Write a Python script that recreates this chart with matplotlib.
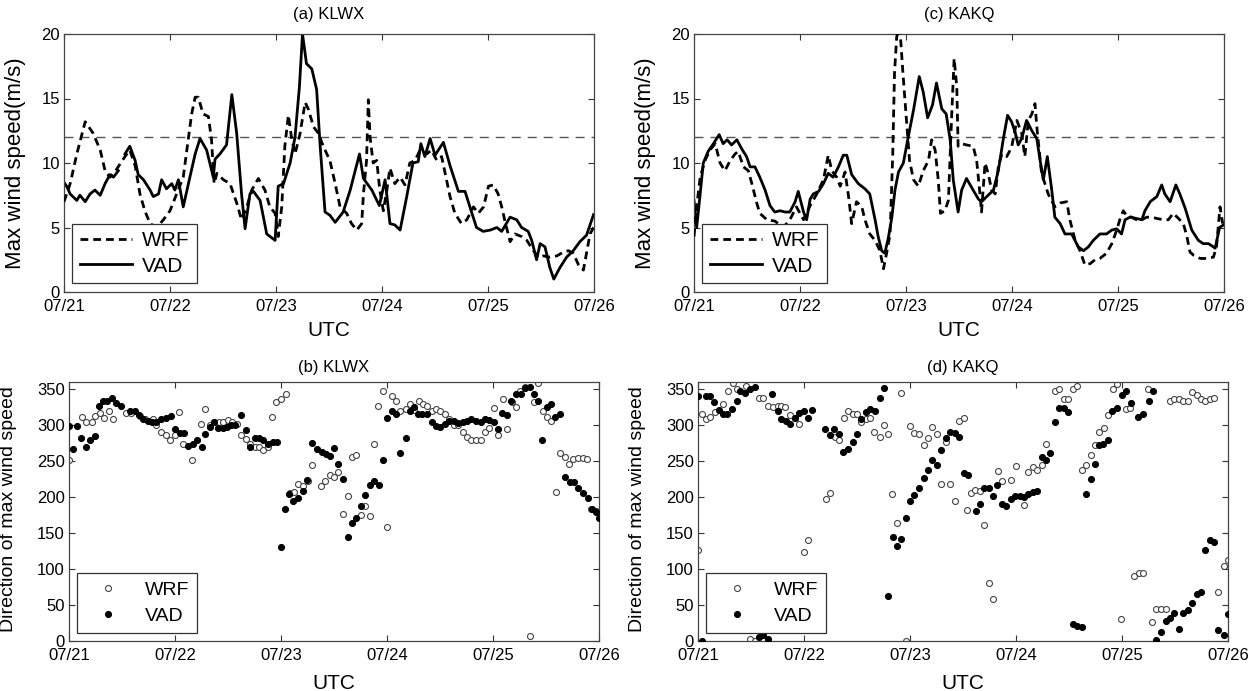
import numpy as np
import matplotlib
matplotlib.use('Agg')
import matplotlib.pyplot as plt

plt.rcParams['font.family'] = ['Liberation Sans', 'DejaVu Sans']

# x axis: hours since 07/21 00 UTC
day_ticks = [0, 24, 48, 72, 96, 120]
day_labels = ['07/21', '07/22', '07/23', '07/24', '07/25', '07/26']

# ---------------- (a) KLWX max wind speed ----------------
klwx_vad_h = [0.0, 0.6, 1.4, 2.9, 3.6, 4.8, 5.9, 7.0, 8.2, 9.3, 10.4, 11.2, 12.3, 13.0, 13.8, 14.9, 16.1, 16.8,
              18.0, 19.5, 20.2, 21.4, 22.1, 23.2, 24.4, 25.1, 25.9, 27.0, 28.5, 29.7, 30.8, 32.3, 33.8, 34.2,
              35.3, 36.8, 38.0, 39.1, 40.2, 41.0, 42.1, 42.9, 44.4, 45.9, 47.8, 48.5, 49.7, 51.2, 52.3, 53.3,
              54.0, 54.9, 56.1, 57.2, 58.0, 59.1, 60.2, 61.4, 63.2, 64.8, 66.9, 67.8, 69.7, 71.4, 72.7, 73.8,
              74.9, 76.1, 77.6, 79.0, 80.2, 80.8, 81.7, 82.9, 84.0, 85.9, 87.4, 89.3, 90.8, 91.9, 93.4, 94.9,
              96.5, 98.0, 99.1, 101.0, 102.5, 103.6, 105.1, 105.9, 107.0, 107.8, 108.9, 110.0, 110.9, 112.3,
              113.8, 115.3, 116.8, 118.3, 119.9]
klwx_vad = [8.5, 8.2, 7.6, 7.1, 7.5, 7.0, 7.6, 7.9, 7.5, 8.4, 9.1, 8.9, 9.4, np.nan, 10.7, 11.3, 10.2, 9.1,
            8.7, 7.9, 7.4, 7.6, 8.7, 8.0, 8.4, 7.9, 8.7, 6.6, 8.9, 10.7, 11.9, 11.0, 8.9, 10.3,
            10.7, 11.4, 15.3, 12.3, 7.6, 4.9, 7.6, 7.8, 7.1, 4.5, 4.0, 8.2, 8.4, 10.0, 12.0, 15.9,
            20.0, 17.7, 17.3, 15.7, 11.3, 6.2, 5.95, 5.4, 6.2, 7.9, 10.7, 8.8, 7.9, 6.7, 8.7, 5.3,
            5.2, 4.8, 7.4, 10.0, 10.1, 11.5, 10.5, 11.9, 10.6, 11.6, 9.8, 7.8, 7.8, 6.6, 5.0, 4.7,
            4.8, 5.0, 4.7, 5.8, 5.6, 5.0, 4.7, 4.0, 2.5, 3.75, 3.5, 1.9, 1.0, 1.9,
            2.7, 3.2, 3.9, 4.4, 6.0]
klwx_wrf_h = [0.0, 1.4, 2.9, 4.8, 6.6, 8.2, 9.3, 10.4, 11.5, 13.8, 14.9, 16.1, 17.2, 18.3, 19.5, 21.0, 22.5,
              24.0, 25.5, 27.0, 28.2, 28.9, 29.7, 30.4, 31.5, 32.7, 33.4, 34.0, 34.6, 36.1, 37.6, 39.1, 40.2,
              41.4, 42.5, 44.0, 45.5, 46.6, 47.8, 48.5, 49.3, 50.0, 50.8, 51.5, 52.3, 53.4, 54.6, 55.3, 56.5,
              57.6, 58.7, 60.2, 61.4, 62.5, 64.0, 65.1, 66.3, 67.4, 67.8, 68.5, 68.9, 69.3, 70.0, 70.8, 71.5,
              72.3, 73.1, 73.8, 74.9, 76.1, 77.2, 78.3, 79.5, 80.6, 82.1, 83.2, 84.4, 85.5, 86.3, 87.4, 88.5,
              90.0, 91.2, 92.7, 93.8, 95.0, 96.1, 97.2, 98.3, 99.1, 99.9, 101.0, 102.1, 103.6, 104.8, 106.3,
              107.4, 108.5, 110.0, 111.6, 113.1, 114.2, 115.3, 116.5, 117.6, 118.3, 119.1, 119.9]
klwx_wrf = [7.0, 8.4, 10.7, 13.2, 12.3, 11.0, 9.4, 8.9, 9.3, 10.5, 11.0, 9.8, 7.6, 6.3, 5.3, 5.0, 5.6,
            6.3, 7.6, 8.9, 12.0, 13.8, 15.1, 15.1, 13.8, 13.6, 11.8, 8.4, 9.2, 8.7, 8.4, 6.9, 5.6,
            6.6, 7.9, 8.8, 7.9, 6.6, 6.1, 4.3, 6.6, 11.3, 13.7, 12.0, 10.7, 12.2, 14.7, 14.2, 12.8,
            12.3, 11.3, 10.2, 8.4, 6.6, 6.1, 5.3, 4.8, 5.3, 7.6, 10.2, 14.9, 12.0, 10.0, 10.2, 7.9,
            6.3, 7.9, 9.6, 8.4, 8.9, 8.3, 10.0, 10.2, 11.0, 10.7, 11.0, 10.2, 10.5, 9.2, 7.4, 6.1,
            5.3, 5.6, 6.6, 6.1, 6.6, 8.2, 8.3, 7.6, 6.6, 5.4, 3.9, 4.5, 4.3, 4.0, 3.2,
            2.7, 2.8, 2.7, 2.8, 3.1, 3.2, 3.0, 2.1, 1.7, 3.0, 4.5, 5.0]

# ---------------- (c) KAKQ max wind speed ----------------
kakq_vad_h = [0.0, 0.6, 1.4, 2.1, 3.2, 4.4, 5.7, 6.6, 7.5, 8.5, 9.7, 10.8, 11.9, 12.7, 13.8, 14.9, 16.1, 17.2,
              18.3, 19.5, 20.6, 21.7, 22.9, 23.6, 24.8, 25.5, 26.3, 27.0, 28.2, 29.3, 30.4, 31.5, 32.7, 33.8,
              34.6, 35.7, 37.2, 38.7, 39.8, 41.0, 41.7, 42.5, 43.2, 44.0, 44.8, 45.5, 46.3, 47.4, 48.5, 49.7,
              51.0, 51.9, 52.9, 54.0, 54.9, 56.1, 57.1, 58.0, 58.7, 59.8, 60.6, 61.7, 63.2, 64.4, 65.1, 66.3,
              67.8, 68.9, 70.0, 71.0, 71.9, 72.7, 73.4, 74.2, 75.3, 76.5, 77.6, 78.6, 79.1, 80.0, 81.0, 81.7,
              82.9, 84.0, 85.5, 87.0, 88.2, 89.3, 90.4, 91.9, 93.4, 94.6, 95.7, 96.8, 97.6, 98.7, 100.2, 101.4,
              102.1, 103.3, 104.8, 105.9, 106.6, 107.8, 109.1, 110.0, 111.2, 112.7, 114.2, 115.3, 116.5,
              118.0, 119.0, 119.9]
kakq_vad = [7.1, 5.0, 7.6, 10.0, 10.9, 11.5, 12.2, 11.5, 11.8, 11.4, 11.8, 11.1, 10.5, 9.7, 9.7, 8.9, 7.9, 6.7,
            6.2, 6.3, 6.2, 6.2, 7.0, 7.8, 6.2, 5.6, 7.2, 7.6, 7.8, 8.4, 9.2, 8.9, 9.7, 10.6,
            10.6, 9.1, 8.4, 8.0, 7.6, 5.6, 4.3, 3.2, 3.0, 4.2, 5.8, 7.9, 9.3, 10.0, 12.0, 14.1,
            16.7, 15.5, 13.5, 14.5, 16.2, 14.2, 13.8, 11.8, 8.7, 6.2, 7.9, 8.8, 7.9, 7.2, 7.0, 7.4,
            7.9, 9.4, 11.8, 13.7, 13.2, 12.4, 11.4, 11.9, 13.3, 12.5, 11.9, 9.7, 8.7, 10.5, 7.9, 5.8,
            5.3, 4.5, 4.5, 3.5, 3.2, 3.5, 4.0, 4.5, 4.5, 4.8, 4.9, 4.5, 5.6, 5.8, 5.7, 5.6,
            6.3, 7.0, 7.4, 8.3, 7.6, 7.0, 8.3, 7.6, 6.5, 4.8, 4.0, 3.75, 3.75,
            3.4, 5.0, 5.2]
kakq_wrf_h = [0.0, 0.6, 1.4, 2.5, 3.6, 4.8, 5.9, 7.0, 8.2, 9.3, 10.0, 11.2, 12.3, 13.1, 14.2, 14.9, 16.5, 18.3,
              20.2, 21.7, 23.2, 24.8, 26.3, 27.8, 29.3, 30.4, 31.2, 32.3, 33.1, 34.2, 35.0, 35.7, 36.8, 38.0,
              38.7, 39.8, 41.0, 42.1, 42.9, 43.6, 44.4, 45.0, 45.4, 45.9, 46.6, 47.3, 48.0, 48.8, 49.7, 50.8,
              51.9, 53.1, 53.8, 54.6, 55.3, 55.8, 56.8, 57.6, 58.3, 58.9, 59.5, 59.8, 60.6, 61.7, 63.2, 64.0,
              64.8, 65.1, 65.9, 66.6, 67.4, 68.2, 68.9, 69.7, 70.8, 71.9, 73.1, 74.2, 74.9, 75.7, 76.5, 77.2,
              77.7, 78.7, 80.2, 81.7, 82.9, 84.4, 85.1, 86.3, 87.4, 88.5, 89.7, 90.8, 91.9, 93.4, 94.6, 95.7,
              96.5, 97.2, 98.0, 99.1, 100.2, 101.4, 102.5, 103.6, 104.8, 106.3, 107.4, 108.5, 109.7, 110.8,
              111.6, 112.3, 113.1, 114.6, 116.1, 117.6, 118.3, 119.1, 119.7]
kakq_wrf = [4.3, 6.6, 8.9, 10.2, 11.0, 11.5, 10.0, 9.4, 10.2, 10.7, 10.9, 9.7, 9.4, 8.4, 6.9, 6.1, 5.6, 5.5,
            5.0, 5.6, 6.6, 5.6, 6.7, 7.6, 8.7, 10.6, 9.4, 8.9, 8.2, 9.3, 7.4, 5.3, 7.0, 6.6,
            5.6, 4.5, 4.0, 3.2, 1.8, 3.0, 4.5, 10.7, 17.0, 19.8, 20.5, 17.0, 13.8, 10.2, 8.7, 8.2,
            9.4, 10.2, 11.8, 11.0, 8.7, 6.1, 6.3, 7.1, 13.3, 18.1, 15.9, 11.3, 11.5, 11.4, 11.3, 10.2,
            7.4, 6.2, 10.0, 9.2, 7.9, 7.6, 9.7, 10.7, 10.5, 11.2, 13.3, 12.3, 10.5, 13.3, 13.8, 14.6,
            12.5, 9.2, 7.6, 6.6, 6.9, 7.0, 5.6, 4.0, 3.2, 2.1, 2.2, 2.5, 2.6, 3.0, 3.75, 4.8,
            5.7, 6.3, 5.9, 5.8, 5.6, 5.6, 5.8, 5.8, 5.7, 5.6, 5.6, 6.1, 5.7, 5.3,
            4.3, 3.1, 2.85, 2.6, 2.6, 2.7, 3.5, 6.6, 5.3]

# ---------------- (b) KLWX direction of max wind speed ----------------
klwx_dir_vad_h = [0, 0.9, 1.8, 2.8, 3.8, 4.8, 5.8, 6.8, 7.7, 8.7, 9.8, 10.7, 11.7, 13.8, 14.9, 15.9, 16.8, 17.8,
                  18.7, 19.8, 20.8, 21.9, 23.1, 24.0, 25.1, 26.1, 27.0, 28.0, 28.9, 30.0, 30.9, 31.9, 32.8, 33.8,
                  34.8, 35.7, 36.7, 37.5, 38.9, 40.0, 41.0, 42.0, 43.0, 44.0, 45.0, 46.1, 47.0, 47.9, 48.9, 49.9,
                  50.8, 51.8, 52.9, 53.8, 55.0, 56.1, 57.2, 58.1, 59.1, 60.0, 61.0, 62.0, 63.1, 64.1, 65.0, 66.1,
                  67.1, 68.1, 69.0, 70.1, 71.0, 72.1, 73.1, 74.1, 75.0, 76.2, 77.1, 78.0, 79.0, 79.9, 81.1, 82.1,
                  83.1, 84.1, 85.1, 86.1, 87.1, 88.1, 89.2, 90.2, 91.1, 92.2, 93.2, 94.2, 95.2, 96.2, 97.2, 98.1,
                  99.1, 100.0, 101.1, 102.3, 103.2, 104.3, 105.3, 106.2, 107.2, 108.2, 109.1, 110.1, 111.1, 112.3,
                  113.4, 114.4, 115.3, 116.4, 117.4, 118.4, 119.3, 120.0]
klwx_dir_vad = [299, 267, 299, 282, 270, 279, 285, 327, 334, 333, 338, 331, 326, 319, 320, 314, 309, 306,
                304, 304, 309, 310, 313, 295, 289, 289, 271, 274, 279, 269, 288, 297, 304, 296,
                296, 297, 300, 300, 314, 293, 269, 282, 282, 279, 274, 276, 276, 130, 183, 205,
                195, 199, 208, 224, 275, 267, 263, 260, 257, 268, 246, 225, 144, 164, 171, 187,
                203, 217, 222, 217, 252, 310, 320, 316, 262, 282, 320, 325, 316, 316, 316, 305,
                299, 297, 302, 306, 306, 303, 304, 306, 309, 306, 305, 309, 307, 304, 295, 317,
                314, 334, 343, 343, 351, 353, 343, 334, 279, 325, 329, 311, 315, 228,
                221, 221, 213, 206, 199, 184, 179, 171]
klwx_dir_wrf_h = [0, 3.0, 3.9, 5.1, 5.8, 7.0, 7.9, 9.0, 10.0, 12.9, 14.0, 16.0, 17.2, 18.3, 19.1, 19.8, 20.9,
                  21.9, 22.8, 24.0, 24.9, 25.9, 27.9, 29.9, 30.9, 31.9, 32.9, 34.0, 34.9, 35.9, 37.0, 38.0, 38.9,
                  40.0, 41.0, 42.0, 43.0, 44.0, 45.0, 45.9, 46.9, 47.9, 49.1, 50.1, 51.0, 51.9, 52.9, 54.0, 55.0,
                  57.0, 58.0, 59.0, 60.0, 61.0, 62.0, 63.1, 64.1, 65.0, 66.1, 67.1, 68.1, 69.0, 70.0, 71.0, 72.1,
                  73.1, 74.1, 75.0, 76.2, 77.1, 78.0, 79.2, 80.2, 81.1, 82.1, 83.1, 84.1, 85.1, 86.1, 87.1, 88.1,
                  89.2, 90.2, 91.1, 92.2, 93.2, 94.2, 95.2, 96.2, 97.2, 98.2, 99.2, 100.2, 101.3, 102.1, 103.2,
                  104.3, 105.3, 106.2, 107.3, 108.3, 109.2, 110.2, 111.2, 112.2, 113.2, 114.2, 115.3, 116.3,
                  117.2, 118.3, 119.3, 120.0]
klwx_dir_wrf = [252, 311, 305, 305, 313, 317, 310, 320, 309, 317, 317, 313, 309, 306, 308, 300, 290,
                287, 280, 286, 318, 274, 252, 302, 323, 300, 305, 305, 305, 307, 304, 302, 286,
                281, 274, 269, 269, 265, 269, 311, 332, 336, 343, 206, 207, 218, 216, 222, 245,
                216, 223, 231, 228, 235, 176, 202, 256, 258, 175, 188, 174, 274, 326, 347, 158,
                340, 333, 320, 322, 330, 321, 333, 330, 326, 319, 323, 319, 316, 309, 300, 300,
                291, 284, 280, 280, 280, 291, 296, 324, 287, 337, 294, 332, 325, 348, 353,
                7, 332, 359, 320, 311, 306, 207, 262, 256, 246, 253, 254, 254,
                253, 184, 181, 179]

# ---------------- (d) KAKQ direction of max wind speed ----------------
kakq_dir_vad_h = [0, 0.9, 1.7, 2.7, 3.6, 4.8, 5.6, 6.6, 7.7, 8.9, 9.6, 10.6, 11.7, 12.9, 13.8, 14.8, 15.8, 16.8,
                  18.0, 18.9, 20.0, 20.8, 21.9, 22.9, 24.0, 24.9, 25.9, 28.8, 29.8, 30.8, 32.0, 32.9, 33.9, 35.0,
                  36.0, 37.0, 38.0, 39.0, 40.1, 41.1, 42.0, 43.1, 44.1, 45.0, 46.0, 47.0, 48.0, 49.0, 50.0, 51.1,
                  52.0, 53.0, 54.1, 55.1, 56.1, 57.1, 58.1, 59.1, 60.2, 61.1, 62.9, 63.8, 64.7, 65.9, 66.7, 67.8,
                  68.8, 69.7, 70.8, 71.8, 72.8, 73.7, 74.8, 75.8, 76.8, 77.8, 78.8, 79.8, 80.8, 81.8, 82.9, 83.8,
                  84.8, 85.7, 86.9, 87.8, 88.9, 89.9, 90.9, 91.8, 92.9, 93.8, 94.8, 95.9, 96.8, 98.0, 99.7, 100.8,
                  102.0, 103.0, 103.8, 104.8, 105.9, 106.9, 107.8, 108.9, 109.9, 111.0, 111.9, 112.9, 113.9,
                  114.9, 115.9, 116.9, 117.8, 119.0, 120.0]
kakq_dir_vad = [341, 0, 340, 340, 332, 321, 316, 316, 323, 334, 347, 345, 350, 353, 6, 9, 3, 344,
                320, 309, 306, 302, 310, 317, 319, 310, 321, 294, 287, 295, 288, 263, 267, 276,
                288, 309, 318, 322, 319, 338, 352, 63, 144, 132, 142, 171, 195, 203, 212, 227,
                237, 252, 245, 265, 282, 291, 289, 283, 233, 231, 181, 191, 212, 212, 201, 217,
                191, 187, 198, 202, 202, 200, 205, 207, 208, 256, 252, 262, 304, 324, 324, 318,
                23, 21, 19, 205, 225, 246, 272, 274, 280, 319, 324, 342, 348, 331, 311, 316,
                334, 348, 1, 13, 28, 32, 39, 16, 39, 43, 53, 65, 68,
                127, 140, 138, 15, 8, 38]
kakq_dir_wrf_h = [0, 0.9, 1.9, 2.8, 3.8, 5.7, 6.8, 7.9, 8.9, 10.8, 11.7, 12.8, 13.8, 14.8, 15.9, 17.0, 18.0, 18.9,
                  19.8, 20.8, 21.9, 22.9, 23.9, 24.9, 28.9, 29.9, 31.0, 32.0, 33.0, 34.0, 35.0, 36.0, 37.0, 38.0,
                  39.0, 39.9, 41.1, 42.0, 43.0, 43.9, 45.0, 46.0, 47.0, 48.0, 49.0, 50.0, 51.1, 52.0, 53.0, 54.1,
                  55.1, 56.1, 57.1, 58.1, 59.1, 60.2, 60.8, 61.8, 62.7, 63.8, 64.8, 65.9, 66.9, 67.9, 68.9, 70.9,
                  71.9, 73.9, 74.8, 75.8, 76.8, 77.8, 78.8, 80.8, 81.8, 82.9, 83.8, 84.8, 85.9, 86.9, 87.8, 88.9,
                  89.9, 90.9, 91.9, 92.9, 93.9, 94.8, 95.8, 96.8, 97.8, 98.8, 99.8, 100.8, 101.8, 102.9, 103.8,
                  104.8, 105.9, 106.9, 107.8, 108.9, 109.9, 110.9, 111.9, 112.9, 113.9, 114.9, 115.9, 116.9,
                  117.8, 119.0, 120.0]
kakq_dir_wrf = [126, 316, 309, 312, 318, 330, 348, 359, 350, 355, 3, 0, 338, 338, 327, 325, 327, 327,
                325, 314, 310, 302, 124, 141, 198, 206, 283, 280, 310, 320, 316, 316, 304, 309,
                310, 290, 283, 300, 288, 204, 164, 345, 0, 299, 289, 288, 273, 282, 297, 288,
                218, 276, 218, 194, 306, 310, 182, 206, 210, 208, 161, 81, 58, 236, 222, 224,
                243, 189, 235, 242, 237, 244, 274, 348, 350, 336, 337, 350, 355, 237, 245, 259,
                273, 290, 296, 314, 350, 357, 31, 323, 324, 91, 94, 94, 350, 26, 44,
                44, 44, 334, 336, 336, 334, 334, 346, 342, 336, 333, 336, 338,
                68, 104, 113]

W, H = 1259, 691
fig = plt.figure(figsize=(W / 100, H / 100), dpi=100)


def axes_px(left, top, right, bottom):
    return fig.add_axes([left / W, 1 - bottom / H, (right - left) / W, (bottom - top) / H])


def style_axes(ax, xlabelpad):
    ax.set_xlim(0, 120)
    ax.set_xticks(day_ticks)
    ax.set_xticklabels(day_labels)
    ax.tick_params(direction='in', top=True, right=True, length=4, width=0.8,
                   labelsize=12, colors='#333333', labelcolor='black')
    ax.tick_params(axis='x', pad=5)
    ax.tick_params(axis='y', pad=3)
    for s in ax.spines.values():
        s.set_color('#444444')
        s.set_linewidth(0.9)
    ax.set_xlabel('UTC', fontsize=15, labelpad=xlabelpad)


def speed_panel(ax, title, t_wrf, wrf, t_vad, vad):
    ax.axhline(12, color='#555555', lw=1.0, ls=(0, (6.5, 5)), zorder=1)
    ax.plot(t_wrf, wrf, color='black', lw=2.0, ls=(0, (2.8, 1.8)), label='WRF', zorder=3)
    ax.plot(t_vad, vad, color='black', lw=2.0, label='VAD', zorder=2)
    ax.set_ylim(0, 20)
    ax.set_yticks([0, 5, 10, 15, 20])
    style_axes(ax, 5)
    ax.set_title(title, fontsize=12, pad=11)
    ax.set_ylabel('Max wind speed(m/s)', fontsize=16)
    ax.yaxis.set_label_coords(-0.072, 0.5)
    leg = ax.legend(loc='lower left', bbox_to_anchor=(0.016, 0.035), borderaxespad=0,
                    fontsize=15, handlelength=2.5, handletextpad=0.5, labelspacing=0.3,
                    fancybox=False, framealpha=1, edgecolor='#333333', borderpad=0.35)
    leg.get_frame().set_linewidth(0.9)


def dir_panel(ax, title, t_wrf, wrf, t_vad, vad):
    ax.plot(t_wrf, wrf, ls='none', marker='o', ms=4.3, mfc='white', mec='#444444', mew=0.8,
            label='WRF', zorder=2)
    ax.plot(t_vad, vad, ls='none', marker='o', ms=4.3, mfc='black', mec='black', mew=0.8,
            label='VAD', zorder=3)
    ax.set_ylim(0, 360)
    ax.set_yticks(range(0, 351, 50))
    style_axes(ax, 8)
    ax.set_title(title, fontsize=12, pad=7)
    ax.set_ylabel('Direction of max wind speed', fontsize=14)
    ax.yaxis.set_label_coords(-0.098, 0.51)
    leg = ax.legend(loc='lower left', bbox_to_anchor=(0.015, 0.031), borderaxespad=0,
                    fontsize=14, handlelength=2.4, handletextpad=0.7, labelspacing=0.45,
                    fancybox=False, framealpha=1, edgecolor='#333333', borderpad=0.4)
    leg.get_frame().set_linewidth(0.9)


ax_a = axes_px(64, 34, 594, 292)
ax_c = axes_px(694, 34, 1224, 292)
ax_b = axes_px(69, 382, 599, 641)
ax_d = axes_px(698, 382, 1228, 641)

speed_panel(ax_a, '(a) KLWX', klwx_wrf_h, klwx_wrf, klwx_vad_h, klwx_vad)
speed_panel(ax_c, '(c) KAKQ', kakq_wrf_h, kakq_wrf, kakq_vad_h, kakq_vad)
dir_panel(ax_b, '(b) KLWX', klwx_dir_wrf_h, klwx_dir_wrf, klwx_dir_vad_h, klwx_dir_vad)
dir_panel(ax_d, '(d) KAKQ', kakq_dir_wrf_h, kakq_dir_wrf, kakq_dir_vad_h, kakq_dir_vad)

fig.savefig('out.png', dpi=100)
